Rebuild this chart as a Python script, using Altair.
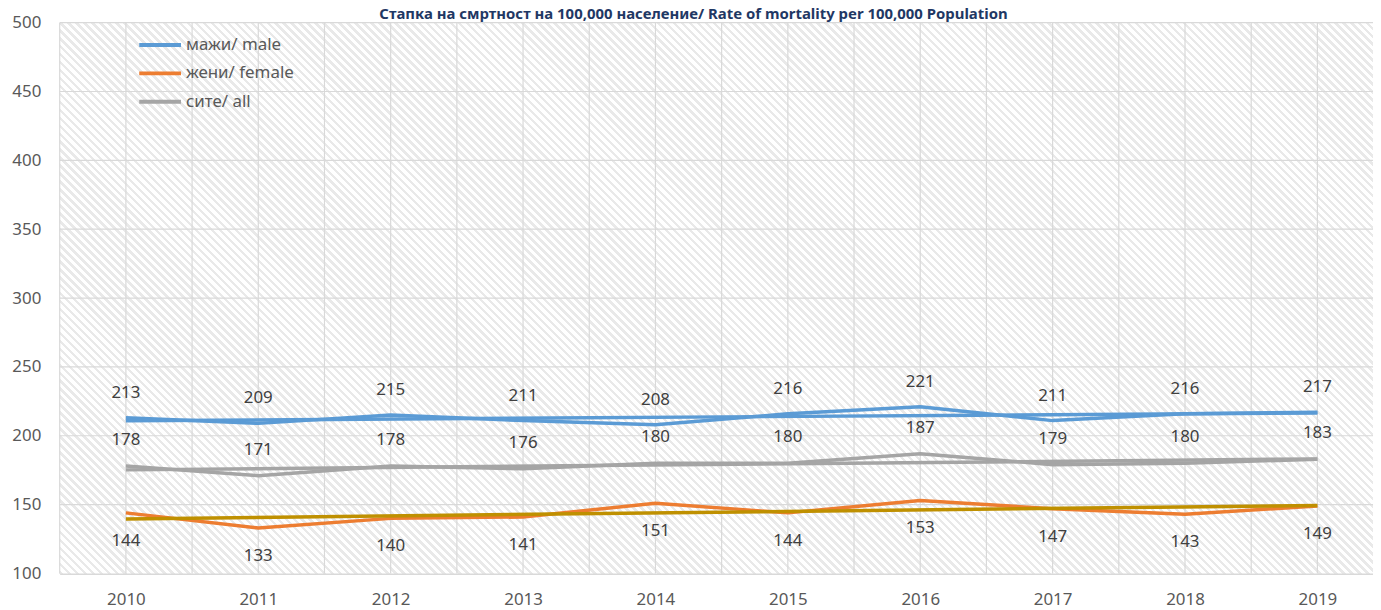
import altair as alt
import pandas as pd

# ---- data ----
years = [2010, 2011, 2012, 2013, 2014, 2015, 2016, 2017, 2018, 2019]
male = [213, 209, 215, 211, 208, 216, 221, 211, 216, 217]
female = [144, 133, 140, 141, 151, 144, 153, 147, 143, 149]
all_people = [178, 171, 178, 176, 180, 180, 187, 179, 180, 183]
series_names = ["мажи/ male", "жени/ female", "сите/ all"]
y_ticks = [100, 150, 200, 250, 300, 350, 400, 450, 500]
x_grid = [2009.5, 2010, 2010.5, 2011, 2011.5, 2012, 2012.5, 2013, 2013.5, 2014,
          2014.5, 2015, 2015.5, 2016, 2016.5, 2017, 2017.5, 2018, 2018.5, 2019]
title_text = "Стапка на смртност на 100,000 население/ Rate of mortality per 100,000 Population"

# ---- styles ----
line_colors = ["#5B9BD5", "#ED7D31", "#A5A5A5"]
trend_colors = ["#5B9BD5", "#BF9000", "#A5A5A5"]
label_dy = [-25, 28, -26]
FONT = "Noto Sans"
W, H = 1321, 554

rows = []
for name, vals in zip(series_names, [male, female, all_people]):
    for yr, v in zip(years, vals):
        rows.append({"year": yr, "series": name, "value": v})
df = pd.DataFrame(rows)

xscale = alt.Scale(domain=[2009.5, 2019.42], nice=False, zero=False)
yscale = alt.Scale(domain=[100, 500], nice=False, zero=False)

x_axis = alt.Axis(values=years, format="d", labelFontSize=17, labelColor="#595959",
                  labelFont=FONT, ticks=False, domainColor="#D9D9D9", domainWidth=2,
                  grid=False, labelPadding=18, labelFlush=False, title=None)
y_axis = alt.Axis(values=y_ticks, labelFontSize=17, labelColor="#595959", labelFont=FONT,
                  ticks=False, domain=False, grid=False, labelPadding=19, title=None)

# ---- hatched background (diagonal stripes via a gradient) ----
n_stripes = round((W + H) / 8)
frac = 0.45
stops = []
for i in range(n_stripes):
    a = i / n_stripes
    b = (i + frac) / n_stripes
    c = (i + 1) / n_stripes
    stops += [alt.GradientStop(offset=a, color="#E9E9E9"),
              alt.GradientStop(offset=b, color="#E9E9E9"),
              alt.GradientStop(offset=b, color="#FFFFFF"),
              alt.GradientStop(offset=c, color="#FFFFFF")]
k = (W + H) / (W * W + H * H)
hatch_fill = alt.LinearGradient(gradient="linear", stops=stops,
                                x1=0, y1=1, x2=k * W, y2=1 - k * H)

bg = alt.Chart(pd.DataFrame({"a": [0]})).mark_rect(fill=hatch_fill, strokeWidth=0).encode(
    x=alt.value(0), x2=alt.value(W), y=alt.value(0), y2=alt.value(H)
)

hgrid = alt.Chart(pd.DataFrame({"v": y_ticks[1:]})).mark_rule(
    color="#D9D9D9", strokeWidth=1.2).encode(y=alt.Y("v:Q", scale=yscale, axis=y_axis))
vgrid = alt.Chart(pd.DataFrame({"g": x_grid})).mark_rule(
    color="#D9D9D9", strokeWidth=1.2).encode(x=alt.X("g:Q", scale=xscale, axis=x_axis))

base = alt.Chart(df)

lines = base.mark_line(strokeWidth=3.5).encode(
    x=alt.X("year:Q", scale=xscale, axis=x_axis),
    y=alt.Y("value:Q", scale=yscale, axis=y_axis),
    color=alt.Color("series:N",
                    scale=alt.Scale(domain=series_names, range=line_colors),
                    sort=series_names,
                    legend=alt.Legend(title=None, orient="none", legendX=78, legendY=14,
                                      symbolType="stroke", symbolSize=1764,
                                      symbolStrokeWidth=4, clipHeight=17, rowPadding=10.5,
                                      labelFontSize=17, labelColor="#595959",
                                      labelFont=FONT, labelOffset=3, padding=0)),
)

trends = []
labels = []
for name, col, dy in zip(series_names, trend_colors, label_dy):
    trends.append(
        base.transform_filter(alt.datum.series == name)
        .transform_regression("year", "value", method="linear")
        .mark_line(strokeWidth=3.5, color=col)
        .encode(x=alt.X("year:Q", scale=xscale), y=alt.Y("value:Q", scale=yscale))
    )
    labels.append(
        base.transform_filter(alt.datum.series == name)
        .mark_text(fontSize=17, font=FONT, color="#404040", dy=dy, baseline="middle")
        .encode(x=alt.X("year:Q", scale=xscale), y=alt.Y("value:Q", scale=yscale),
                text=alt.Text("value:Q", format="d"))
    )

chart = alt.layer(bg, hgrid, vgrid, lines, *trends, *labels).properties(
    width=W, height=H,
    padding={"left": 52, "top": 13, "right": 0, "bottom": 35},
    autosize=alt.AutoSizeParams(type="none"),
    title=alt.TitleParams(text=title_text, fontSize=15, fontWeight="bold",
                          color="#1F3864", font=FONT, offset=-8, anchor="middle", dx=-23),
).configure_view(stroke=None).configure(background="white")

chart.save("out.html", embed_options={"renderer": "svg", "actions": False})
